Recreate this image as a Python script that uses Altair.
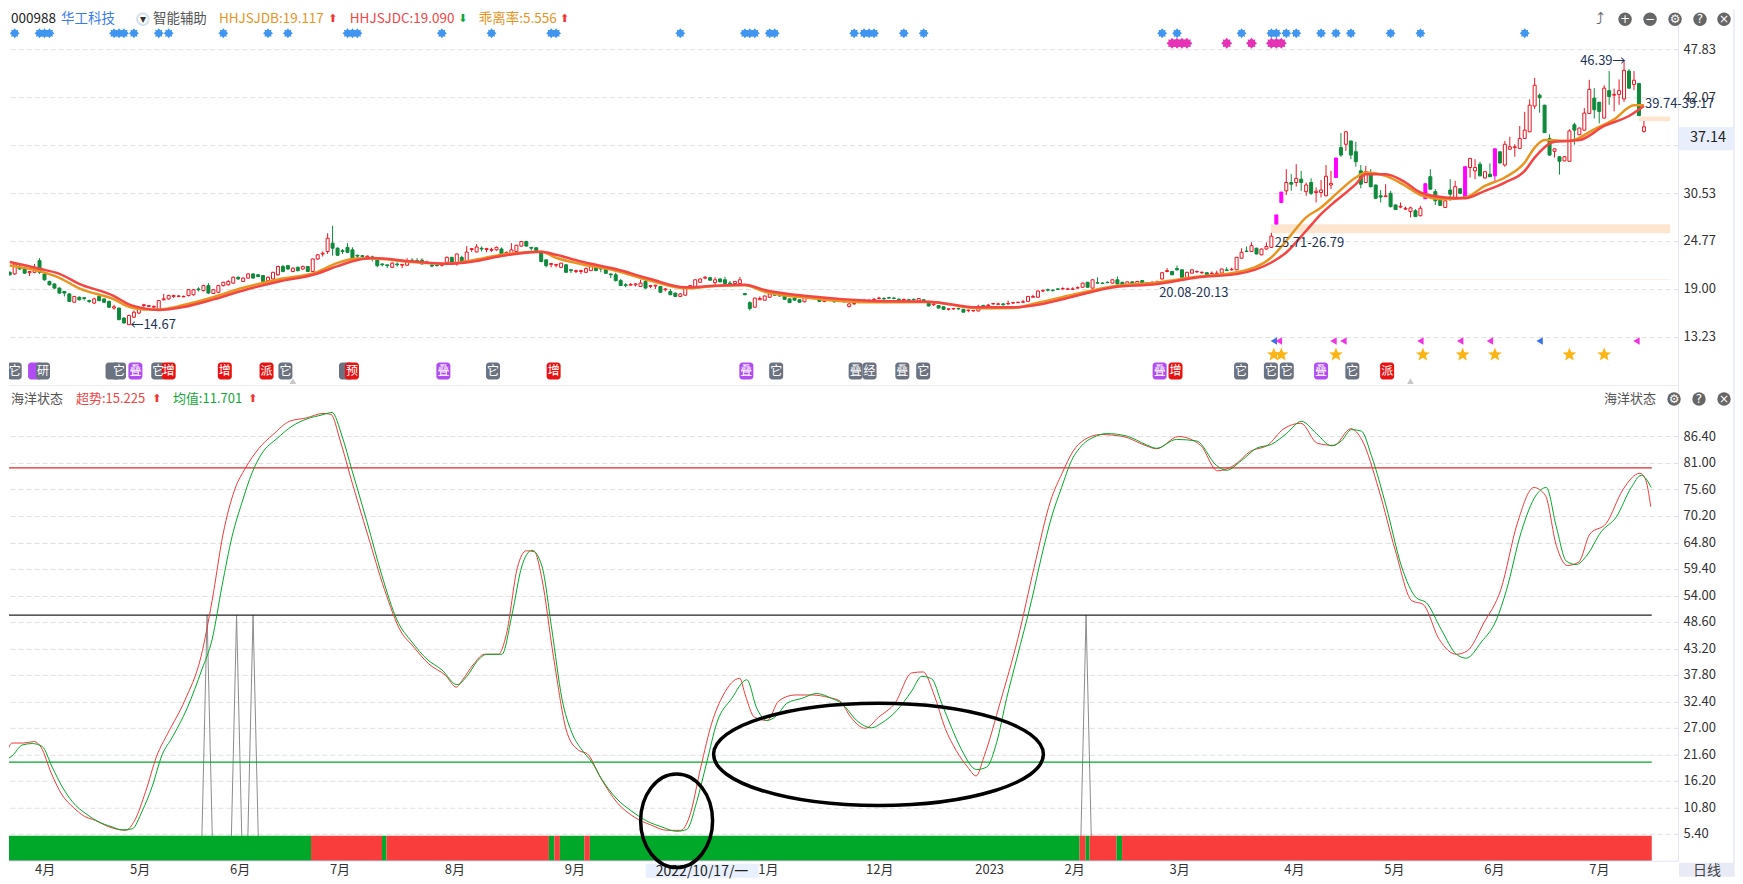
import altair as alt
import pandas as pd

CJK = "Noto Sans CJK SC"
ONE = pd.DataFrame({"a": [0]})

# open, close, low, high, read bar by bar
candle_rows = [
[21.0,20.7,20.6,21.1],[20.8,22.0,20.7,22.2],[21.6,21.4,21.3,21.9],[21.5,20.9,20.8,21.7],[20.95,21.1,20.55,21.15],
[21.0,21.6,20.9,22.0],[22.4,21.0,20.8,22.7],[20.8,20.1,20.0,21.0],[19.9,19.5,19.4,20.0],[19.6,19.1,19.0,19.7],
[19.1,18.5,18.4,19.2],[18.7,18.5,18.1,18.75],[18.4,17.5,17.45,18.5],[17.4,18.1,17.35,18.15],[18.0,17.7,17.6,18.1],
[17.95,17.85,17.6,18.0],[17.6,17.5,17.3,17.7],[17.3,17.8,17.2,17.95],[18.1,17.6,17.5,18.3],[17.8,17.4,17.35,17.85],
[17.5,16.8,16.7,17.6],[16.7,16.85,16.5,17.1],[16.7,15.3,15.25,16.75],[15.5,14.9,14.85,15.6],[14.7,15.8,14.67,15.9],
[15.6,16.2,15.5,16.4],[16.1,16.7,16.0,16.8],[17.0,17.1,16.7,17.2],[16.9,17.0,16.8,17.05],[16.8,16.9,16.7,17.0],
[16.5,17.6,16.45,17.65],[17.7,17.8,17.6,18.4],[17.8,18.2,17.7,18.3],[18.1,18.2,17.9,18.3],[18.1,18.15,18.0,18.25],
[18.05,18.1,18.0,18.2],[18.2,18.9,18.1,19.0],[18.3,18.9,18.2,19.0],[19.0,18.9,18.7,19.2],
[18.8,19.4,18.7,19.5],[19.4,18.5,18.4,19.7],[18.45,18.9,18.4,19.0],[18.6,19.4,18.5,19.5],[19.4,19.8,19.3,19.85],
[19.5,19.9,19.4,20.05],[19.7,20.4,19.65,20.5],[20.4,20.2,20.1,20.5],[19.9,20.3,19.85,20.4],[20.3,20.8,20.25,20.9],
[20.8,20.3,20.25,20.9],[20.7,20.5,20.4,20.8],[20.6,19.9,19.85,20.65],[20.0,20.4,19.95,20.5],[20.2,21.0,20.15,21.05],
[20.7,21.7,20.6,21.8],[21.7,21.1,21.0,21.9],[21.8,21.4,21.3,21.85],[21.1,21.5,21.0,21.6],[21.6,21.2,21.1,21.7],
[21.4,21.7,21.3,21.8],[21.7,21.1,21.05,21.75],[21.1,22.6,21.05,22.65],[22.6,23.1,22.5,23.2],[23.2,23.3,22.9,23.5],
[23.5,25.1,23.2,25.7],[24.5,23.9,23.0,26.6],[23.9,23.05,23.0,24.0],[23.6,23.5,23.2,23.8],[24.0,23.4,23.3,24.5],
[23.7,22.7,22.6,24.0],[23.05,22.95,22.65,23.1],[23.0,22.9,22.65,23.05],[22.85,22.95,22.55,23.0],[22.85,22.7,22.3,23.0],[22.5,21.8,21.6,22.8],
[22.0,21.9,21.7,22.1],[21.9,21.8,21.5,21.9],[21.6,22.1,21.5,22.2],[22.0,21.9,21.7,22.2],[21.85,21.95,21.5,22.0],
[21.85,22.4,21.8,22.7],[22.45,22.35,22.3,22.7],[22.4,22.3,22.2,22.7],[22.45,22.0,21.95,22.7],[22.15,22.25,22.0,22.4],
[21.85,21.75,21.6,22.0],[21.85,21.8,21.7,22.0],[21.85,21.9,21.7,22.05],[22.2,22.8,22.1,22.9],[22.8,22.1,22.05,22.85],
[22.0,23.2,21.8,23.25],[22.8,22.3,22.2,23.0],[22.4,23.44,22.35,24.15],[23.75,23.85,23.45,23.9],[23.45,24.05,23.4,24.4],
[23.9,23.8,23.5,24.1],[23.75,23.85,23.4,23.95],[23.65,23.75,23.45,23.95],[23.7,24.0,23.6,24.1],[23.8,23.1,23.05,24.0],
[23.1,23.4,23.05,23.5],[23.2,23.7,23.1,24.5],[23.5,24.25,23.4,24.3],[24.15,24.7,24.1,24.75],[24.7,24.15,24.1,24.8],
[24.0,23.9,23.6,24.05],[23.95,23.6,23.5,24.0],[23.4,22.3,22.2,23.45],[22.5,21.8,21.6,22.55],[21.95,22.05,21.6,22.1],
[21.85,21.95,21.6,22.0],[21.6,22.1,21.5,22.15],[21.9,21.0,20.95,22.0],[21.3,21.2,20.9,21.4],[21.1,21.2,20.9,21.3],
[21.1,21.2,20.8,21.3],
[21.0,21.44,20.9,21.6],[21.2,21.92,21.15,22.0],[21.68,21.2,21.15,21.75],[21.5,21.4,21.0,21.5],[21.4,20.88,20.85,21.45],
[20.8,20.7,20.3,20.85],[20.7,20.0,19.9,20.95],[20.0,19.4,19.35,20.2],[19.5,19.4,19.2,19.7],[19.45,19.55,19.4,19.7],
[19.5,19.6,19.3,19.7],[19.3,19.7,19.25,20.1],[19.9,19.1,19.05,20.2],[19.3,19.4,19.1,19.45],[19.35,19.45,19.0,19.5],
[19.3,18.6,18.55,19.3],[18.9,19.0,18.7,19.1],[18.7,18.3,18.25,19.0],[18.5,18.1,18.05,18.55],[18.1,18.4,18.05,18.5],
[18.25,19.1,18.2,19.1],[19.3,19.4,19.1,19.45],[19.3,20.1,19.25,20.15],[19.8,20.2,19.75,20.25],[20.3,20.4,20.15,20.55],
[20.35,20.05,20.0,20.45],[19.75,20.1,19.5,20.4],[20.2,19.85,19.8,20.25],[20.1,19.65,19.6,20.45],[19.7,19.6,19.5,19.95],
[19.65,19.9,19.6,19.95],[19.65,20.1,19.6,20.45],[18.45,18.3,18.25,18.5],[17.35,16.65,16.4,17.5],[16.8,17.9,16.75,17.95],
[17.7,17.85,17.7,18.1],[17.65,18.15,17.6,18.2],[18.0,18.4,17.95,18.55],[18.3,18.25,18.2,18.45],[18.2,18.15,18.1,18.3],
[18.15,17.75,17.7,18.2],[17.8,17.35,17.3,17.85],[17.9,17.65,17.6,18.1],[17.7,17.4,17.35,17.75],[17.45,18.0,17.4,18.05],
[18.0,17.95,17.9,18.25],[17.85,17.9,17.8,18.0],[17.85,17.5,17.45,17.9],[17.5,17.8,17.4,17.85],[17.65,17.7,17.6,17.85],
[17.5,17.45,17.35,17.7],[17.6,17.55,17.5,17.75],[17.5,17.45,17.35,17.6],[16.9,17.2,16.75,17.25],[17.2,17.25,17.1,17.5],
[17.35,17.4,17.3,17.5],[17.5,17.55,17.45,17.8],[17.55,17.6,17.5,17.8],[17.7,17.75,17.65,17.9],[17.85,17.9,17.75,18.05],
[17.85,17.8,17.7,18.0],[17.95,17.9,17.8,18.05],[17.9,17.85,17.75,18.05],[17.75,17.7,17.6,17.9],[17.7,17.75,17.5,17.8],
[17.7,17.6,17.5,17.8],[17.75,17.7,17.6,17.85],[17.55,17.85,17.5,17.85],[17.7,17.45,17.4,17.75],[17.3,16.95,16.9,17.35],
[17.1,17.2,16.95,17.3],[17.0,16.7,16.65,17.05],[16.85,16.55,16.5,16.9],[16.55,16.6,16.4,16.65],[16.6,16.65,16.5,16.7],
[16.65,16.6,16.5,16.75],[16.55,16.2,16.2,16.6],[16.4,16.45,16.2,16.5],[16.35,16.4,16.3,16.4],[16.35,16.9,16.3,17.1],
[17.0,16.95,16.8,17.1],[17.0,17.05,16.9,17.2],[17.2,17.25,17.1,17.3],[17.15,17.2,17.1,17.35],[17.2,17.1,17.0,17.3],
[17.2,17.25,17.1,17.6],[17.3,17.35,17.2,17.45],[17.35,17.4,17.3,17.45],[17.4,17.45,17.3,17.7],[17.5,18.1,17.5,18.1],
[18.0,18.1,18.0,18.3],[18.0,18.75,18.0,18.8],
[18.75,18.8,18.65,18.95],[18.9,18.85,18.7,19.05],[18.85,18.8,18.7,18.95],[19.0,18.95,18.85,19.1],[19.0,19.05,18.9,19.2],
[18.95,19.0,18.9,19.15],[18.95,19.0,18.9,19.2],[19.1,19.15,19.05,19.3],[19.2,19.7,19.15,19.75],[19.8,19.2,19.15,19.85],
[19.1,20.1,19.05,20.15],[19.75,19.7,19.6,20.4],[19.7,19.65,19.6,19.8],[19.8,19.75,19.7,19.9],[19.7,20.1,19.65,20.15],
[20.1,19.6,19.55,20.5],[19.8,19.4,19.35,19.85],[19.4,19.85,19.35,19.9],[19.85,19.5,19.45,19.9],[19.6,19.9,19.55,19.95],
[20.0,19.6,19.55,20.05],[19.75,19.7,19.6,19.8],[19.75,19.8,19.7,19.9],[19.8,19.85,19.7,20.0],[20.2,20.95,20.15,21.0],
[21.1,21.2,21.0,21.5],[21.1,20.7,20.65,21.15],[21.45,21.3,21.2,21.8],[21.3,20.4,20.35,21.35],[20.4,21.0,20.35,21.05],
[20.9,21.3,20.85,21.35],[21.05,21.1,20.95,21.2],[20.95,21.0,20.8,21.1],[20.95,20.6,20.55,21.0],[20.85,20.9,20.8,21.1],
[20.85,20.9,20.8,21.2],[20.9,21.4,20.85,21.45],[21.3,21.2,21.2,21.6],[21.3,21.35,21.2,21.55],[21.3,22.8,21.25,22.85],
[22.7,23.4,22.65,23.9],[23.55,23.5,23.5,24.1],[23.5,24.2,23.45,24.6],[23.9,23.2,23.15,23.95],[23.1,23.8,23.05,23.85],
[23.8,24.1,23.75,24.6],[24.0,25.35,23.95,25.75],[26.8,27.9,26.8,27.9],[29.4,30.65,29.3,30.65],[30.8,31.8,30.3,33.4],
[31.8,31.6,30.8,32.8],[31.8,32.3,31.3,34.0],[32.2,31.8,30.8,33.2],[30.7,31.5,30.2,31.8],[31.8,30.5,30.3,32.3],
[30.6,30.75,29.4,31.2],[30.6,30.9,30.0,32.1],[30.2,32.55,30.15,33.9],[31.5,31.7,31.0,33.2],[32.4,34.75,32.4,34.75],
[36.0,35.1,34.9,37.75],[36.4,37.9,35.6,38.0],[36.8,35.1,34.6,36.8],[35.5,34.3,33.7,36.7],[33.2,31.6,31.1,33.9],
[31.8,33.1,31.75,33.8],[32.7,31.3,31.2,33.4],[31.5,29.9,29.8,31.55],[30.2,30.05,29.4,30.9],[30.1,30.2,30.1,31.6],
[30.5,28.9,28.8,30.8],[29.1,28.55,28.5,29.15],[28.85,28.95,28.7,29.4],[28.6,28.7,28.5,28.9],[28.3,28.75,27.6,28.9],
[28.4,27.7,27.65,28.6],[27.8,28.7,27.75,29.0],[29.85,31.65,29.85,31.65],[32.5,31.0,30.95,33.4],[30.7,29.6,29.1,31.0],
[29.75,29.05,29.0,29.8],[28.8,29.6,28.75,30.0],[30.9,30.4,29.6,32.2],[29.9,31.3,29.85,32.0],[31.05,30.5,30.4,31.1],
[30.0,33.7,30.0,33.7],[33.6,34.7,32.4,34.75],[33.2,33.6,32.2,34.6],[34.0,32.6,32.55,34.3],[32.35,33.1,32.3,33.2],
[32.8,32.5,32.45,34.1],[32.6,35.85,31.9,35.85],[35.5,34.15,34.1,35.5],[33.9,36.4,33.7,36.8],[35.8,36.1,35.75,37.3],
[36.0,36.1,34.9,36.4],[35.9,37.1,35.85,38.6],[37.1,38.1,37.05,40.3],[37.9,41.1,37.85,41.8],[41.0,43.5,40.65,44.36],
[42.3,42.0,40.2,42.5],[41.1,37.8,37.75,41.15],[37.1,35.1,35.0,37.6],[35.55,35.85,34.8,35.9],[34.9,34.35,32.75,34.95],
[34.4,34.9,34.35,35.0],[34.35,38.0,34.3,38.2],[38.75,38.1,36.35,39.0],[37.55,38.35,37.5,38.4],[38.1,40.15,38.05,40.75],
[40.1,43.0,40.05,44.15],[41.95,40.55,39.5,43.15],[41.45,40.35,38.9,41.5],[39.55,43.15,39.5,43.5],[42.85,42.15,41.15,45.2],
[42.3,42.4,40.35,43.1],[42.4,42.85,41.15,44.2],[41.85,45.3,41.5,46.39],[45.2,43.15,43.1,45.45],[43.6,44.1,42.9,45.2],
[43.7,39.85,39.8,43.8],[37.95,38.5,37.8,39.2],
]
magenta_bars = [255, 256, 267, 285, 293, 299]

ma_red_x = [0,6,10,14,21,24,27,30,35,41,47,54,62,66,70,73,81,88,93,99,107,110,115,122,129,136,142,148,152,161,173,185,195,202,207,214,222,231,239,247,254,257,261,264,267,271,273,277,281,284,289,293,297,301,305,307,311,316,321,326,329]
ma_red_y = [22.23,21.42,20.82,19.62,18.14,17.14,16.66,16.46,16.82,17.74,18.82,19.86,20.86,21.74,22.47,22.71,22.31,22.03,22.27,22.95,23.47,23.11,22.3,21.39,20.19,19.19,19.39,19.51,18.87,18.11,17.59,17.47,16.79,16.79,17.10,18.06,19.18,19.58,20.38,20.78,22.18,23.39,26.0,28.0,29.6,31.6,32.8,32.8,31.8,30.6,30.0,29.9,30.8,31.8,33.2,34.8,36.7,36.9,38.6,39.8,41.0]
ma_org_x = [0,6,10,14,21,24,27,30,35,41,47,54,62,66,70,73,81,88,93,99,107,110,115,122,129,136,142,148,152,161,173,185,195,202,207,214,222,231,239,247,254,257,261,264,267,271,273,277,281,284,289,293,297,301,305,307,309,314,319,323,327,329]
ma_org_y = [21.82,21.14,20.34,19.06,17.74,16.86,16.54,16.54,17.06,18.02,19.14,20.14,21.06,22.14,22.67,22.67,22.23,22.03,22.43,23.11,23.47,22.75,22.0,21.19,19.99,19.07,19.35,19.43,18.67,17.91,17.39,17.43,16.67,16.71,17.34,18.30,19.3,19.78,20.46,21.0,22.8,24.8,27.6,28.8,30.4,32.4,33.0,32.6,31.4,30.3,29.8,30.0,31.4,32.4,34.2,36.0,36.9,36.8,38.2,39.4,41.1,41.1]

fast_x = [0,1.5,3.7,5.9,7.3,9.3,11.5,13.7,15.9,18.2,20.4,22.6,24.2,26,28.2,30.4,32.6,36,39.3,41.5,43.7,46,48.2,50.8,53.7,57,60.4,63.7,65.3,67.1,69.3,72.6,76,79.3,81.5,84.9,88.2,90.4,91.5,93.7,96,98.8,100.4,102.6,104.4,106,107.5,109.8,112.6,114.9,116.6,119.3,122.6,126,129.3,132.6,135.3,137,139.3,141.5,143.8,147.1,148.2,150,152.6,154.9,158.2,161.5,164.9,167.1,169.3,172.2,174.9,178.2,181.5,183.8,186,188.2,190.4,192.7,194.4,196,199.3,202.7,206,209.3,211.6,213.8,216,219.3,223.8,228.2,230.5,234.9,239.3,242.7,246,249.3,252.7,256,259.4,262.7,266,269.4,271.6,275,278.3,281.6,283.8,287.1,290.5,292.7,296,299.4,302.7,306,308.3,310.5,312.7,315,317.2,320.5,323.8,327.2,328.3,329.4]
fast_y = [20.3,23.9,23.9,24.2,23.0,17.8,13.3,10.8,9.0,8.1,7.0,6.3,6.1,8.1,14.0,21.2,25.8,32.5,41.6,52.9,66.5,75.5,80.0,83.9,86.8,89.5,90.2,91.1,90.9,85.7,77.8,66.5,55.2,46.6,43.9,40.0,37.7,35.3,36.6,39.8,42.0,42.0,46.1,59.7,63.1,62.9,57.4,41.6,25.8,22.4,21.7,16.7,11.7,8.8,7.2,6.1,6.1,8.8,19.0,28.0,33.7,37.1,33.7,29.2,28.5,32.5,33.7,33.7,33.2,32.5,29.2,26.9,29.2,32.1,38.2,38.4,33.7,26.9,22.4,19.0,17.2,21.2,32.5,45.0,59.7,73.3,78.9,83.4,85.7,86.8,86.4,84.6,83.9,86.4,84.6,79.4,80.5,83.4,84.6,88.0,89.1,85.0,84.6,88.0,85.7,75.5,63.1,52.9,52.2,45.0,42.0,42.7,48.4,55.2,68.7,76.0,74.4,64.2,60.1,60.8,66.5,68.7,75.5,78.9,77.8,72.1]
slow_x = [0,1.5,3.5,5.5,7.5,9.5,11.5,13.5,16.5,18.5,21.5,23.5,25.5,27.5,29.5,31.5,33.5,36.5,39.5,41.5,43.5,45.5,47.5,49.5,51.5,54.5,57.5,60.5,63.5,65.5,67.5,69.5,72.5,75.5,78.5,81.5,84.5,87.5,90.5,92.5,94.5,96.5,99.5,101.5,103.5,105.5,107.5,109.5,111.5,113.5,115.5,117.5,119.5,122.5,125.5,128.5,131.5,134.5,136.5,138.5,140.5,142.5,145.5,148.5,150.5,152.5,154.5,156.5,159.5,162.5,165.5,167.5,170.5,173.5,175.5,178.5,181.5,183.5,185.5,187.5,189.5,191.5,194.5,196.5,198.5,200.5,202.5,205.5,207.5,209.5,211.5,213.5,215.5,218.5,220.5,224.5,228.5,230.5,234.5,238.5,242.5,244.5,247.5,250.5,253.5,256.5,259.5,262.5,265.5,267.5,269.5,271.5,273.5,276.5,279.5,282.5,284.5,287.5,290.5,292.5,295.5,298.5,300.5,303.5,306.5,308.5,310.5,312.5,314.5,316.5,319.5,322.5,325.5,327.5,329.5]
slow_y = [20.3,21.3,23.5,23.8,23.2,19.0,15.0,12.0,9.3,8.0,6.8,6.2,6.4,10.0,15.0,21.5,25.0,31.0,39.0,45.0,56.0,66.0,73.0,79.0,83.0,86.0,88.5,90.0,90.8,91.3,86.5,79.5,69.0,58.0,49.0,44.5,41.0,38.8,35.8,37.5,40.5,42.0,42.0,50.0,60.0,63.2,60.0,47.0,33.0,26.0,22.5,20.0,16.5,12.5,10.0,8.0,6.8,5.9,6.3,12.0,20.0,28.0,33.0,36.8,31.0,28.5,29.5,32.0,33.0,34.0,33.0,32.0,28.5,27.0,28.0,30.5,34.5,37.5,37.0,32.0,27.0,22.5,18.5,19.0,24.0,33.0,41.0,53.0,62.0,70.0,76.0,81.5,84.5,86.5,87.0,86.5,84.7,84.0,85.8,85.5,80.5,79.5,81.5,84.0,84.8,87.0,89.5,87.0,84.5,85.5,87.8,87.5,82.5,72.0,60.0,53.5,52.5,47.0,42.0,41.2,44.5,49.0,55.0,67.0,74.5,76.0,68.0,61.0,60.3,62.0,67.0,70.0,76.0,78.5,76.0]

spikes = [40.5, 46.4, 49.7, 216.4]
levels = [80, 50, 20]
level_colors = ["#e02828", "#222222", "#00a82a"]
state_x = [-1, 61.3, 75.5, 76.4, 108.9, 110, 111.1, 116, 117.1, 215.1, 216.3, 217.1, 222.5, 223.6]
state_x2 = [61.3, 75.5, 76.4, 108.9, 110, 111.1, 116, 117.1, 215.1, 216.3, 217.1, 222.5, 223.6, 329.6]
state_c = ["#00a82a", "#f93c3c"] * 7

blue_stars = [1,6,7,8,21,22,23,25,30,32,43,52,56,68,69,70,87,97,109,110,135,148,149,150,153,154,170,172,173,174,180,184,232,235,248,254,255,257,259,264,267,270,278,284,305]
pink_stars = [234,235,236,237,245,250,254,255,256]
flags_x = [254.5,255.5,266.5,268.5,284,292,298,308,327.5]
flags_c = ["#3a6fe8","#f033e0","#f033e0","#f033e0","#f033e0","#f033e0","#f033e0","#3a6fe8","#f033e0"]
gold_stars = [254.5,256,267,284.5,292.5,299,314,321]
G, P, R = "#6b7280", "#b04cf2", "#e81212"
tags = [(1,"它",G),(5.1,"",P),(6.7,"研",G),(20.7,"",G),(22,"它",G),(25.3,"叠",P),(29.9,"它",G),(32,"增",R),(43.3,"增",R),(51.7,"派",R),(55.5,"它",G),(67.7,"",G),(68.9,"预",R),(87.3,"叠",P),(97.3,"它",G),(109.5,"增",R),(148.3,"叠",P),(154.3,"它",G),(170.3,"叠",G),(173.1,"经",G),(179.7,"叠",G),(183.9,"它",G),(231.5,"叠",P),(234.7,"增",R),(247.9,"它",G),(253.9,"它",G),(257.1,"它",G),(264,"叠",P),(270.3,"它",G),(277.3,"派",R)]
tag_x = [t[0] for t in tags]; tag_t = [t[1] for t in tags]; tag_c = [t[2] for t in tags]

month_idx = [8,27,47,67,90,114,152,175,197,214,235,258,278,298,319]
month_txt = ["4月","5月","6月","7月","8月","9月","11月","12月","2023","2月","3月","4月","5月","6月","7月"]
price_ticks = [47.83,42.07,36.30,30.53,24.77,19.00,13.23]
osc_ticks = [86.4,81,75.6,70.2,64.8,59.4,54,48.6,43.2,37.8,32.4,27,21.6,16.2,10.8,5.4]

XDOM = [0.86, 334.86]
TOPDOM = [7.32, 52.64]
LOWDOM = [-0.1, 96.69]
W, HT, HL = 1670, 377, 475

rows = []
for i, (o, c, l, h) in enumerate(candle_rows):
    mg = i in magenta_bars
    col = "#ff00ff" if mg else ("#ee1420" if c >= o else "#0f8a3c")
    fill = "#ff00ff" if mg else ("#ffffff" if c >= o else "#0f8a3c")
    rows.append(dict(i=i, o=o, c=c, l=l, h=h, col=col, fill=fill))
df = pd.DataFrame(rows)

xs = alt.Scale(domain=XDOM, nice=False, zero=False)
yt = alt.Scale(domain=TOPDOM, nice=False, zero=False)
yl = alt.Scale(domain=LOWDOM, nice=False, zero=False)


def y_axis(ticks):
    return alt.Axis(orient="right", values=ticks, title=None, grid=True, gridColor="#e0e0e0", gridDash=[5, 3],
                    tickSize=0, labelPadding=5, labelFontSize=13, labelFont=CJK, labelColor="#333333",
                    domainColor="#e4e6f4", labelOverlap=False,
                    labelExpr="abs(datum.value-36.3)<0.01 ? '' : format(datum.value,'.2f')")


low_x_axis = alt.Axis(values=month_idx, title=None, grid=False, tickSize=0, labelPadding=3, labelFontSize=13,
                      labelFont=CJK, labelColor="#333333", domainColor="#e4e6f4", labelOverlap=False, labelFlush=False,
                      labelExpr="%s[indexof(%s, datum.value)]" % (month_txt, month_idx))
XT = lambda f: alt.X(f, type="quantitative", scale=xs, axis=None)
XL = lambda f: alt.X(f, type="quantitative", scale=xs, axis=low_x_axis)
YT = lambda f: alt.Y(f, type="quantitative", scale=yt, axis=y_axis(price_ticks))
YL = lambda f: alt.Y(f, type="quantitative", scale=yl, axis=y_axis(osc_ticks))

BURST = "M0,-1 L.3,-.62 L.7,-.7 L.62,-.3 L1,0 L.62,.3 L.7,.7 L.3,.62 L0,1 L-.3,.62 L-.7,.7 L-.62,.3 L-1,0 L-.62,-.3 L-.7,-.7 L-.3,-.62 Z"


def label(text, x, y, color="#333333", size=13, align="center", font=CJK):
    return alt.Chart(ONE).mark_text(text=text, align=align, baseline="middle", fontSize=size,
                                    font=font, color=color).encode(x=alt.value(x), y=alt.value(y))


def dot(x, y, color="#666666", size=180, shape="circle"):
    return alt.Chart(ONE).mark_point(shape=shape, filled=True, size=size, color=color, opacity=1).encode(
        x=alt.value(x), y=alt.value(y))


def box(x, x2, y, y2, color):
    return alt.Chart(ONE).mark_rect(color=color).encode(x=alt.value(x), x2=alt.value(x2), y=alt.value(y), y2=alt.value(y2))


def icon_row(y, xs_glyphs):
    out = []
    for x, g in xs_glyphs:
        out.append(dot(x, y))
        out.append(label(g, x, y, "#ffffff", 12, font="DejaVu Sans"))
    return out


# ------- upper panel
HY = 10
bands_df = pd.DataFrame({"x": [253.9, 231, 328], "x2": [334.3, 334.3, 334.3], "a": [25.71, 20.08, 39.17], "b": [26.79, 20.13, 39.74]})
bands = alt.Chart(bands_df).mark_rect(color="#fde5d0", clip=True).encode(x=XT("x"), x2="x2", y=YT("a"), y2="b")
wick = alt.Chart(df).mark_rule(strokeWidth=1, clip=True).encode(x=XT("i"), y=YT("l"), y2="h", color=alt.Color("col:N", scale=None))
body = alt.Chart(df).mark_bar(size=3, orient="vertical", strokeWidth=1, clip=True).encode(
    x=XT("i"), y=YT("o"), y2="c", fill=alt.Fill("fill:N", scale=None), stroke=alt.Stroke("col:N", scale=None))
ma_o = alt.Chart(pd.DataFrame({"x": ma_org_x, "y": ma_org_y})).mark_line(color="#e8941e", strokeWidth=2.5, interpolate="monotone", clip=True).encode(x=XT("x"), y=YT("y"))
ma_r = alt.Chart(pd.DataFrame({"x": ma_red_x, "y": ma_red_y})).mark_line(color="#f44545", strokeWidth=2.5, interpolate="monotone", clip=True).encode(x=XT("x"), y=YT("y"))


def star_row(vals, color, y, size):
    return alt.Chart(pd.DataFrame({"x": vals})).mark_point(shape=BURST, filled=True, size=size * size, color=color, opacity=1, clip=True).encode(
        x=XT("x"), y=alt.value(y))


notes_df = pd.DataFrame({"x": [24.3, 325.3, 254.7, 231.4, 329.2], "y": [14.65, 46.39, 24.5, 18.5, 41.2],
                         "t": ["←14.67", "46.39→", "25.71-26.79", "20.08-20.13", "39.74-39.17"],
                         "al": ["left", "right", "left", "left", "left"]})
notes = [alt.Chart(notes_df[notes_df.al == a]).mark_text(align=a, baseline="middle", fontSize=13, font=CJK, color="#1d3557").encode(
    x=XT("x"), y=YT("y"), text="t:N") for a in ["left", "right"]]
flags = alt.Chart(pd.DataFrame({"x": flags_x, "c": flags_c})).mark_point(shape="triangle-left", filled=True, size=55, opacity=1).encode(
    x=XT("x"), y=alt.value(332), color=alt.Color("c:N", scale=None))
gold = alt.Chart(pd.DataFrame({"x": gold_stars})).mark_point(shape="M0,-1 L.27,-.33 L1,-.3 L.43,.14 L.62,.85 L0,.45 L-.62,.85 L-.43,.14 L-1,-.3 L-.27,-.33 Z",
                 filled=True, size=196, color="#fdb515", opacity=1).encode(x=XT("x"), y=alt.value(345.5))
tag_df = pd.DataFrame({"x": tag_x, "t": tag_t, "c": tag_c})
tag_rect = alt.Chart(tag_df).mark_rect(width=14, height=17, cornerRadius=3, clip=True).encode(x=XT("x"), y=alt.value(362), color=alt.Color("c:N", scale=None))
tag_text = alt.Chart(tag_df).mark_text(fontSize=12, font=CJK, color="#ffffff", clip=True, baseline="middle").encode(x=XT("x"), y=alt.value(362), text="t:N")
carets = alt.Chart(pd.DataFrame({"x": [57, 282]})).mark_point(shape="triangle-up", filled=True, size=45, color="#c8c8c8", opacity=1).encode(x=XT("x"), y=alt.value(372))

hdr = [
    label("000988", 2, HY, "#222222", 13.5, "left"),
    label("华工科技", 52, HY, "#3a7bf0", 13.5, "left"),
    dot(134, HY, "#d7e3ee", 190), dot(134, HY, "#ffffff", 90), label("▾", 134, HY, "#333333", 12, font="DejaVu Sans"),
    label("智能辅助", 144, HY, "#555555", 13.5, "left"),
    label("HHJSJDB:19.117", 210, HY, "#e8941e", 13.5, "left"),
    label("⬆", 324, HY, "#f53333", 11, font="DejaVu Sans"),
    label("HHJSJDC:19.090", 341, HY, "#f44545", 13.5, "left"),
    label("⬇", 454, HY, "#0fa83c", 11, font="DejaVu Sans"),
    label("乖离率:5.556", 470, HY, "#e8941e", 13.5, "left"),
    label("⬆", 556, HY, "#f53333", 11, font="DejaVu Sans"),
]
icons_top = [label("⤴", 1592, HY, "#666666", 16, font="DejaVu Sans")] + icon_row(HY, [(1617, "+"), (1642, "−"), (1667, "⚙"), (1692, "?"), (1716, "×")])
price_box = [box(1671, 1726, 118, 141, "#e8eefb"), label("37.14", 1700, 129, "#222222", 14.5)]
sep = alt.Chart(ONE).mark_rule(color="#ececf2").encode(x=alt.value(0), x2=alt.value(1670), y=alt.value(376.5))
right_line = alt.Chart(ONE).mark_rule(color="#dcdff0").encode(x=alt.value(1726), y=alt.value(0), y2=alt.value(377))

NOFRAME = alt.ViewBackground(stroke="transparent", strokeWidth=0)
top = alt.layer(bands, wick, body, ma_o, ma_r, *notes,
                star_row(blue_stars, "#3f95f0", 24, 10), star_row(pink_stars, "#e632b5", 34, 11),
                flags, gold, tag_rect, tag_text, carets, sep, right_line,
                *price_box, *hdr, *icons_top).properties(width=W, height=HT, view=NOFRAME)

# ------- lower panel
spike_rows = []
for k, s in enumerate(spikes):
    spike_rows += [dict(k=k, x=s - 1.15, y=0), dict(k=k, x=s, y=50), dict(k=k, x=s + 1.15, y=0)]
spike = alt.Chart(pd.DataFrame(spike_rows)).mark_line(color="#8c8c8c", strokeWidth=1, clip=True).encode(x=XL("x"), y=YL("y"), detail="k:N")
lv = alt.Chart(pd.DataFrame({"v": levels, "c": level_colors, "a": [0] * 3, "b": [329.6] * 3})).mark_rule(strokeWidth=1.2, clip=True).encode(
    x=XL("a"), x2="b", y=YL("v"), color=alt.Color("c:N", scale=None))
strip = alt.Chart(pd.DataFrame({"x": state_x, "x2": state_x2, "c": state_c, "a": [-0.1] * 14, "b": [5.0] * 14})).mark_rect(clip=True).encode(
    x=XL("x"), x2="x2", y=YL("a"), y2="b", color=alt.Color("c:N", scale=None))
line_fast = alt.Chart(pd.DataFrame({"x": fast_x, "y": fast_y})).mark_line(color="#f03a3a", strokeWidth=1, interpolate="monotone", clip=True).encode(x=XL("x"), y=YL("y"))
line_slow = alt.Chart(pd.DataFrame({"x": slow_x, "y": slow_y})).mark_line(color="#00a828", strokeWidth=1, interpolate="monotone", clip=True).encode(x=XL("x"), y=YL("y"))

ELL = "M -1 0 A 1 %s 0 1 1 1 0 A 1 %s 0 1 1 -1 0 Z"
ell1 = alt.Chart(ONE).mark_point(shape=ELL % (1.3, 1.3), size=72 * 72, color="#000000", strokeWidth=3.5, opacity=1).encode(x=alt.value(668), y=alt.value(435))
ell2 = alt.Chart(ONE).mark_point(shape=ELL % (0.31, 0.31), size=330 * 330, color="#000000", strokeWidth=3.5, opacity=1).encode(x=alt.value(870), y=alt.value(368.5))

low_txt = [
    label("海洋状态", 2, 13, "#555555", 13, "left"),
    label("超势:15.225", 67, 13, "#f44545", 13, "left"),
    label("⬆", 148, 13, "#f53333", 11, font="DejaVu Sans"),
    label("均值:11.701", 164, 13, "#12a838", 13, "left"),
    label("⬆", 244, 13, "#f53333", 11, font="DejaVu Sans"),
    label("海洋状态", 1596, 13, "#555555", 13, "left"),
]
icons_low = icon_row(13, [(1666, "⚙"), (1691, "?"), (1716, "×")])
date_box = [box(637, 750, 478, 492, "#e8effd"), label("2022/10/17/一", 693.5, 486, "#222222", 14)]
day_box = [box(1671, 1726, 477, 491, "#e8ebf5"), label("日线", 1699, 485, "#444444", 14)]
base_line = alt.Chart(pd.DataFrame({"a": [0], "b": [329.6], "v": [-0.1]})).mark_rule(color="#9a9a9a", clip=True).encode(x=XL("a"), x2="b", y=YL("v"))
right_line2 = alt.Chart(ONE).mark_rule(color="#dcdff0").encode(x=alt.value(1726), y=alt.value(0), y2=alt.value(491))

low = alt.layer(spike, lv, line_fast, line_slow, strip, base_line, right_line2,
                *date_box, *day_box, ell1, ell2, *low_txt, *icons_low).properties(width=W, height=HL, view=NOFRAME)

chart = (alt.vconcat(top, low, spacing=0, bounds="flush").properties(padding=0)
         .configure_view(stroke="transparent", strokeWidth=0).configure(background="#ffffff"))
chart.save("out.html", embed_options={"renderer": "svg", "actions": False})
